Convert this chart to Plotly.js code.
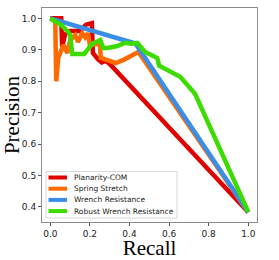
<!DOCTYPE html>
<html><head><meta charset="utf-8">
<script src="https://cdn.plot.ly/plotly-3.0.1.min.js"></script>
<style>html,body{margin:0;padding:0;background:#fff}#chart{width:279px;height:260px}</style>
</head><body><div id="chart"></div>
<script>
const seriesNames = ["Planarity-COM", "Spring Stretch", "Wrench Resistance", "Robust Wrench Resistance"];
const seriesColors = ["#e00000", "#ff6a00", "#3a8ee8", "#3ddc00"];

const planarityRecall    = [0, 0.055, 0.06, 0.075, 0.10, 0.15, 0.18, 0.21, 0.215, 0.22, 0.24, 0.26, 0.28, 0.30, 1.0];
const planarityPrecision = [1.0, 1.0, 0.91, 0.95, 0.96, 0.96, 0.98, 0.985, 0.89, 0.885, 0.87, 0.86, 0.865, 0.855, 0.383];

const springRecall    = [0, 0.025, 0.03, 0.04, 0.066, 0.086, 0.10, 0.126, 0.14, 0.161, 0.176, 0.19, 0.20, 0.25, 0.255, 0.29, 0.33, 0.37, 0.42, 0.445, 1.0];
const springPrecision = [1.0, 0.99, 0.80, 0.874, 0.915, 0.89, 0.93, 0.947, 0.925, 0.953, 0.94, 0.953, 0.915, 0.92, 0.874, 0.868, 0.858, 0.868, 0.884, 0.893, 0.383];

const wrenchRecall    = [0, 0.43, 1.0];
const wrenchPrecision = [1.0, 0.92, 0.383];

const robustRecall    = [0, 0.055, 0.09, 0.10, 0.111, 0.171, 0.212, 0.252, 0.267, 0.29, 0.338, 0.378, 0.408, 0.439, 0.479, 0.52, 0.54, 0.55, 0.58, 0.656, 0.731, 1.0];
const robustPrecision = [1.0, 0.979, 0.957, 0.947, 0.887, 0.887, 0.919, 0.931, 0.906, 0.906, 0.912, 0.922, 0.919, 0.922, 0.893, 0.878, 0.874, 0.849, 0.84, 0.814, 0.76, 0.384];

const xTicks = [0.0, 0.2, 0.4, 0.6, 0.8, 1.0];
const yTicks = [0.4, 0.5, 0.6, 0.7, 0.8, 0.9, 1.0];

const xs = [planarityRecall, springRecall, wrenchRecall, robustRecall];
const ys = [planarityPrecision, springPrecision, wrenchPrecision, robustPrecision];

const W = 279, H = 260;
const M = {l: 42, r: 22, t: 8, b: 38};
const plotW = W - M.l - M.r, plotH = H - M.t - M.b;
const px = v => (v - M.l) / plotW;          // pixel -> paper x
const py = v => (H - M.b - v) / plotH;      // pixel -> paper y

const traces = seriesNames.map((n, i) => ({
  x: xs[i], y: ys[i], name: n, type: "scatter", mode: "lines",
  line: {color: seriesColors[i], width: 4.5}, showlegend: false
}));

// custom legend (matplotlib-like compact legend box)
const shapes = [{
  type: "rect", xref: "paper", yref: "paper",
  x0: px(46), x1: px(177), y0: py(218), y1: py(171.5),
  fillcolor: "rgba(255,255,255,0.85)", line: {color: "#d8d8d8", width: 1}, layer: "above"
}];
const annotations = [];
seriesNames.forEach((n, i) => {
  const yy = 177.5 + i * 11.2;
  shapes.push({
    type: "line", xref: "paper", yref: "paper",
    x0: px(48.5), x1: px(67), y0: py(yy), y1: py(yy),
    line: {color: seriesColors[i], width: 4}, layer: "above"
  });
  annotations.push({
    xref: "paper", yref: "paper", x: px(71.5), y: py(yy),
    xanchor: "left", yanchor: "middle", showarrow: false, text: n,
    font: {family: "DejaVu Sans", size: 7.5, color: "#222"}
  });
});

const axisCommon = {
  showgrid: false, zeroline: false, showline: true, mirror: true,
  linecolor: "#8c8c8c", linewidth: 1, ticks: "outside", ticklen: 3,
  tickcolor: "#555", tickfont: {family: "DejaVu Sans", size: 9, color: "#222"}
};

const layout = {
  width: W, height: H, margin: M,
  paper_bgcolor: "#fff", plot_bgcolor: "#fff",
  showlegend: false, shapes: shapes, annotations: annotations,
  xaxis: Object.assign({}, axisCommon, {
    range: [-0.042, 1.044], tickvals: xTicks, ticktext: xTicks.map(v => v.toFixed(1)),
    title: {text: "Recall", font: {family: "Liberation Serif", size: 21, color: "#000"}, standoff: 4}
  }),
  yaxis: Object.assign({}, axisCommon, {
    range: [0.352, 1.033], tickvals: yTicks, ticktext: yTicks.map(v => v.toFixed(1)),
    title: {text: "Precision", font: {family: "Liberation Serif", size: 21, color: "#000"}, standoff: 3}
  })
};

Plotly.newPlot("chart", traces, layout, {displayModeBar: false, staticPlot: true});
</script>
</body></html>
